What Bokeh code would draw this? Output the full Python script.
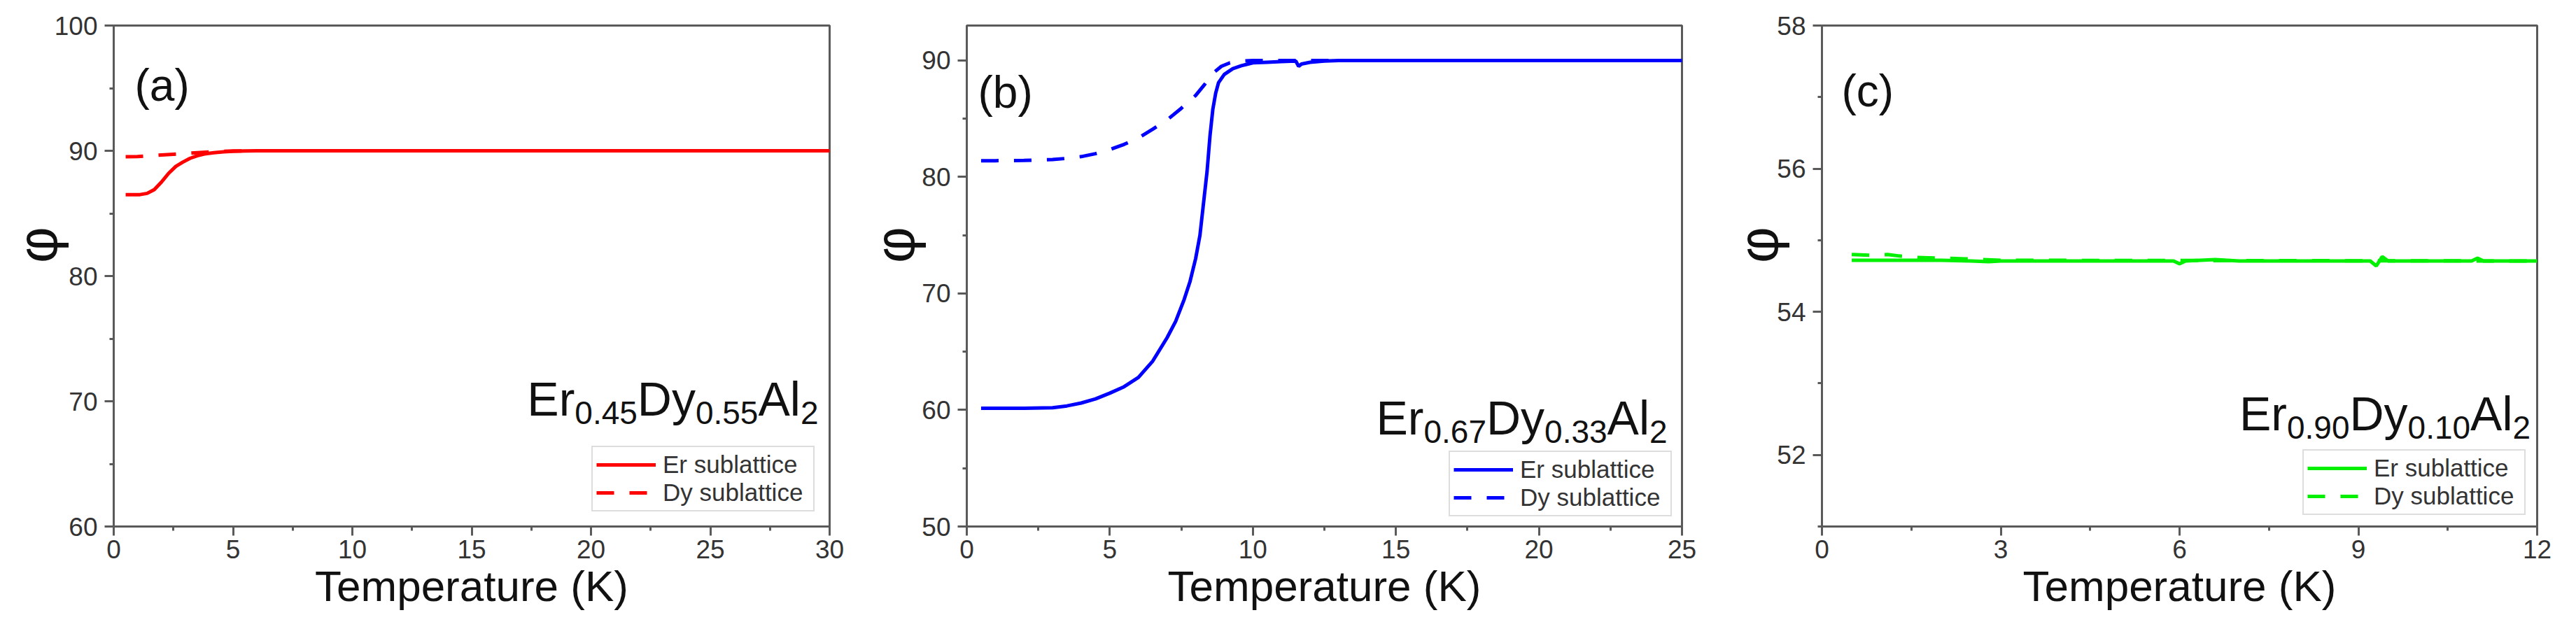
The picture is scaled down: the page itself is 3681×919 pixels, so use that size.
from bokeh.plotting import figure
from bokeh.layouts import row
from bokeh.models import FixedTicker
from bokeh.embed import file_html
from bokeh.resources import INLINE
from bokeh.core.properties import value

# ---------------- data ----------------
# (a) Er0.45Dy0.55Al2
Ta_er = [0.5, 0.8, 1.1, 1.4, 1.7, 2.0, 2.3, 2.6, 2.9, 3.2, 3.5, 3.8, 4.2, 4.6, 5.0, 5.5, 6.0, 7, 10, 15, 20, 25, 30]
phi_a_er = [86.5, 86.5, 86.5, 86.6, 86.9, 87.5, 88.2, 88.75, 89.1, 89.4, 89.6, 89.75, 89.85, 89.92, 89.96, 89.98, 90.0, 90, 90, 90, 90, 90, 90]
Ta_dy = [0.5, 1.0, 1.5, 2.0, 2.5, 3.0, 3.5, 4.0, 4.5, 5.0, 6, 10, 20, 30]
phi_a_dy = [89.52, 89.54, 89.6, 89.66, 89.72, 89.78, 89.85, 89.9, 89.95, 89.98, 90, 90, 90, 90]

# (b) Er0.67Dy0.33Al2
Tb_er = [0.5, 1, 2, 3, 3.5, 4, 4.5, 5, 5.5, 6, 6.5, 7, 7.3, 7.6, 7.8, 8.0, 8.15, 8.3, 8.4, 8.5, 8.6, 8.7, 8.8,
         9.0, 9.3, 9.6, 10, 10.5, 11, 11.5, 11.6, 11.7, 12, 12.5, 13, 15, 20, 25]
phi_b_er = [60.15, 60.15, 60.15, 60.2, 60.35, 60.6, 60.95, 61.45, 62.0, 62.8, 64.2, 66.2, 67.6, 69.5, 71.0, 73.0,
            75.0, 78.3, 80.5, 83.5, 85.8, 87.2, 88.1, 88.8, 89.3, 89.55, 89.8, 89.85, 89.9, 89.95, 89.5, 89.7,
            89.85, 89.95, 90.0, 90, 90, 90]
Tb_dy = [0.5, 1, 2, 3, 3.5, 4, 4.5, 5, 5.5, 6, 6.5, 7, 7.5, 8, 8.3, 8.6, 8.9, 9.2, 9.6, 10, 15, 20, 25]
phi_b_dy = [81.4, 81.4, 81.42, 81.5, 81.6, 81.75, 82.0, 82.35, 82.8, 83.35, 84.1, 84.9, 85.9, 87.0, 87.9, 88.9,
            89.5, 89.8, 89.95, 90.0, 90, 90, 90]

# (c) Er0.90Dy0.10Al2
Tc_er = [0.5, 1.0, 1.5, 2.0, 2.5, 2.8, 3.0, 4, 5, 5.9, 6.0, 6.1, 6.6, 7, 8, 9.2, 9.3, 9.4, 9.5, 10, 10.9, 11.0, 11.1, 12]
phi_c_er = [54.72, 54.72, 54.72, 54.72, 54.71, 54.70, 54.71, 54.71, 54.71, 54.71, 54.67, 54.71, 54.73, 54.71,
            54.71, 54.71, 54.64, 54.77, 54.71, 54.71, 54.71, 54.75, 54.71, 54.71]
Tc_dy = [0.5, 0.8, 1.1, 1.3, 1.6, 2.0, 2.4, 3.0, 12]
phi_c_dy = [54.8, 54.79, 54.8, 54.78, 54.76, 54.75, 54.74, 54.72, 54.71]

# ticks
xa_ticks = [0, 5, 10, 15, 20, 25, 30]
xa_minor = [2.5, 7.5, 12.5, 17.5, 22.5, 27.5]
ya_ticks = [60, 70, 80, 90, 100]
ya_minor = [65, 75, 85, 95]
xb_ticks = [0, 5, 10, 15, 20, 25]
xb_minor = [2.5, 7.5, 12.5, 17.5, 22.5]
yb_ticks = [50, 60, 70, 80, 90]
yb_minor = [55, 65, 75, 85]
xc_ticks = [0, 3, 6, 9, 12]
xc_minor = [1.5, 4.5, 7.5, 10.5]
yc_ticks = [52, 54, 56, 58]
yc_minor = [51, 53, 55, 57]

FONT = "Liberation Sans"
AX = "#5a5a5a"

# Arial / Liberation Sans advance widths (em)
W = {"E": 0.667, "r": 0.333, "D": 0.722, "y": 0.5, "A": 0.667, "l": 0.222,
     "0": 0.556, "1": 0.556, "2": 0.556, "3": 0.556, "4": 0.556, "5": 0.556,
     "6": 0.556, "7": 0.556, "9": 0.556, ".": 0.278}


def twidth(s, size):
    return sum(W[c] for c in s) * size


def make(xr, yr, xt, xm, yt, ym, left, fw, right, color, er, dy, tag, formula, fpos, tagoff,
         phi_standoff, margin):
    p = figure(width=left + fw + right, height=900,
               x_range=xr, y_range=yr, output_backend="svg", toolbar_location=None,
               min_border_left=left, min_border_right=right, min_border_top=36, min_border_bottom=148)
    p.background_fill_color = "white"
    p.border_fill_color = "white"
    p.outline_line_color = AX
    p.outline_line_width = 3
    p.xgrid.visible = False
    p.ygrid.visible = False
    for ax in (p.xaxis[0], p.yaxis[0]):
        ax.axis_line_color = AX
        ax.axis_line_width = 3
        ax.major_tick_line_color = AX
        ax.major_tick_line_width = 3
        ax.minor_tick_line_color = AX
        ax.minor_tick_line_width = 3
        ax.major_tick_in = 0
        ax.major_tick_out = 13
        ax.minor_tick_in = 0
        ax.minor_tick_out = 6
        ax.major_label_text_font = FONT
        ax.major_label_text_font_size = "37px"
        ax.major_label_text_color = "#333333"
        ax.axis_label_text_font = FONT
        ax.axis_label_text_font_style = "normal"
        ax.axis_label_text_color = "#111111"
    p.xaxis[0].ticker = FixedTicker(ticks=xt, minor_ticks=xm)
    p.yaxis[0].ticker = FixedTicker(ticks=yt, minor_ticks=ym)
    p.xaxis[0].major_label_standoff = 6
    p.yaxis[0].major_label_standoff = 10
    p.xaxis[0].axis_label = "Temperature (K)"
    p.xaxis[0].axis_label_text_font_size = "62px"
    p.xaxis[0].axis_label_standoff = 2
    # y title: phi, shifted above centre by leading no-break spaces
    p.yaxis[0].axis_label = "\u00a0\u00a0\u00a0\u00a0φ"
    p.yaxis[0].axis_label_text_font_size = "80px"
    p.yaxis[0].axis_label_standoff = phi_standoff

    p.line(er[0], er[1], line_color=color, line_width=5, legend_label="Er sublattice")
    p.line(dy[0], dy[1], line_color=color, line_width=5, line_dash="25 22", legend_label="Dy sublattice")

    lg = p.legend[0]
    lg.location = "bottom_right"
    lg.margin = margin
    lg.border_line_color = "#bbbbbb"
    lg.border_line_width = 2
    lg.background_fill_color = "white"
    lg.background_fill_alpha = 1
    lg.label_text_font = FONT
    lg.label_text_font_size = "35px"
    lg.label_text_color = "#333333"
    lg.glyph_width = 85
    lg.glyph_height = 40
    lg.label_height = 40
    lg.label_width = 210
    lg.label_standoff = 10
    lg.padding = 5
    lg.spacing = 0

    # panel tag
    p.text(x=[xr[0]], y=[yr[1]], text=[tag], x_offset=tagoff[0], y_offset=tagoff[1],
           text_font=value(FONT), text_font_size="64px", text_color="#111111",
           text_align="left", text_baseline="alphabetic")

    # compound formula with subscripts, right aligned at fpos
    M, S = 68, 46
    pieces = [(formula[0], "m"), (formula[1], "s"), (formula[2], "m"), (formula[3], "s"), ("Al", "m"), ("2", "s")]
    offs = []
    cur = 0.0
    for s, kind in reversed(pieces):
        offs.append((s, kind, -cur))
        cur += twidth(s, M if kind == "m" else S)
    main = [o for o in offs if o[1] == "m"]
    sub = [o for o in offs if o[1] == "s"]
    p.text(x=[fpos[0]] * len(main), y=[fpos[1]] * len(main), text=[o[0] for o in main],
           x_offset=[o[2] for o in main], text_font=value(FONT), text_font_size=f"{M}px",
           text_color="#111111", text_align="right", text_baseline="alphabetic")
    p.text(x=[fpos[0]] * len(sub), y=[fpos[1]] * len(sub), text=[o[0] for o in sub],
           x_offset=[o[2] for o in sub], y_offset=[20] * len(sub), text_font=value(FONT),
           text_font_size=f"{S}px", text_color="#111111", text_align="right", text_baseline="alphabetic")
    return p


pa = make((0, 30), (60, 100), xa_ticks, xa_minor, ya_ticks, ya_minor, 162, 1023, 35, "#ff0000",
          (Ta_er, phi_a_er), (Ta_dy, phi_a_dy), "(a)", ("Er", "0.45", "Dy", "0.55"), (29.53, 70.2),
          (30, 85), -23, 21)
pb = make((0, 25), (50, 93), xb_ticks, xb_minor, yb_ticks, yb_minor, 161, 1022, 37, "#0000ff",
          (Tb_er, phi_b_er), (Tb_dy, phi_b_dy), "(b)", ("Er", "0.67", "Dy", "0.33"), (24.49, 59.35),
          (16, 95), -9, 14)
pc = make((0, 12), (51, 58), xc_ticks, xc_minor, yc_ticks, yc_minor, 163, 1022, 35, "#00f000",
          (Tc_er, phi_c_er), (Tc_dy, phi_c_dy), "(c)", ("Er", "0.90", "Dy", "0.10"), (11.89, 52.58),
          (28, 93), -21, 16)

layout = row(pa, pb, pc)
open("out.html", "w").write(file_html(layout, INLINE))
